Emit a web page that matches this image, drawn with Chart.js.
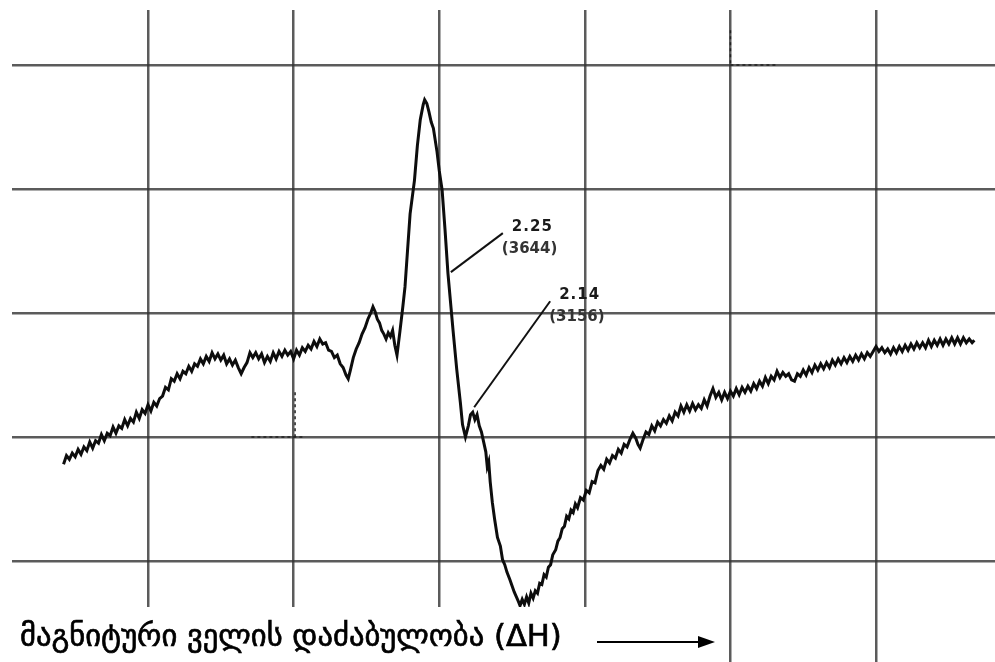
<!DOCTYPE html>
<html>
<head>
<meta charset="utf-8">
<script src="https://cdn.jsdelivr.net/npm/chart.js@4"></script>
<style>
  body { margin: 0; background: #fff; }
  canvas { display: block; }
</style>
</head>
<body>
<canvas id="chart" width="995" height="662"></canvas>
<script>
// field position in grid units (one grid cell = 10), signal in grid units
const field = [
  4.2, 4.4, 4.6, 4.8, 5.0, 5.2, 5.4, 5.6, 5.8, 6.0, 6.2, 6.4, 6.6, 6.8, 7.0, 7.2, 7.4, 7.6, 7.8, 8.0,
  8.2, 8.4, 8.6, 8.8, 9.0, 9.2, 9.4, 9.6, 9.8, 10.0, 10.2, 10.4, 10.6, 10.8, 11.0, 11.2, 11.4, 11.6, 11.8, 12.0,
  12.2, 12.4, 12.6, 12.8, 13.0, 13.2, 13.4, 13.6, 13.8, 14.0, 14.2, 14.4, 14.6, 14.8, 15.0, 15.2, 15.4, 15.6, 15.8, 16.0,
  16.2, 16.4, 16.6, 16.8, 17.0, 17.2, 17.4, 17.6, 17.8, 18.0, 18.2, 18.4, 18.6, 18.8, 19.0, 19.2, 19.4, 19.6, 19.8, 20.0,
  20.2, 20.4, 20.6, 20.8, 21.0, 21.2, 21.4, 21.6, 21.8, 22.0, 22.2, 22.4, 22.6,
  22.8, 23.0, 23.2, 23.4, 23.6, 23.75, 23.9, 24.1, 24.3, 24.5, 24.7, 24.9, 25.1, 25.3, 25.45, 25.6, 25.75, 25.9, 26.05, 26.2,
  26.35, 26.5, 26.65, 26.8, 26.95, 27.1, 27.3, 27.5, 27.65, 28.0, 28.3, 28.5, 28.7, 28.9, 29.0, 29.15, 29.3, 29.45, 29.6, 29.85,
  30.0, 30.2, 30.4, 30.6, 30.95, 31.2, 31.45, 31.6, 31.8, 32.0, 32.15, 32.3, 32.45, 32.6, 32.75, 32.9, 33.05, 33.2, 33.3, 33.4,
  33.5, 33.65, 33.8, 34.0, 34.2, 34.35, 34.5, 34.65, 34.85, 35.0, 35.15, 35.3, 35.45, 35.55, 35.7, 35.85, 36.0, 36.15, 36.3, 36.45,
  36.6, 36.75, 36.9, 37.05, 37.2, 37.35, 37.5, 37.65, 37.8, 38.0, 38.15, 38.3, 38.45, 38.6, 38.75, 38.9, 39.05, 39.2, 39.35, 39.5,
  39.7, 39.9, 40.1, 40.3, 40.5, 40.7, 40.9, 41.1, 41.3, 41.5, 41.7, 41.9, 42.1, 42.3, 42.5, 42.7, 42.9, 43.1, 43.3, 43.5,
  43.65, 43.8, 44.0, 44.2, 44.4, 44.6, 44.8, 45.0, 45.2, 45.4, 45.6, 45.8, 46.0, 46.2, 46.4, 46.6, 46.8, 47.0, 47.2, 47.4,
  47.6, 47.8, 48.0, 48.2, 48.4, 48.6, 48.8, 49.0, 49.2, 49.4, 49.6, 49.8, 50.0, 50.2, 50.4, 50.6, 50.8, 51.0, 51.2, 51.4,
  51.6, 51.8, 52.0, 52.2, 52.4, 52.6, 52.8, 53.0, 53.2, 53.4, 53.6, 53.8, 54.0, 54.2, 54.4, 54.6, 54.8, 55.0, 55.2, 55.4,
  55.6, 55.8, 56.0, 56.2, 56.4, 56.6, 56.8, 57.0, 57.2, 57.4, 57.6, 57.8, 58.0, 58.2, 58.4, 58.6, 58.8, 59.0, 59.2, 59.4,
  59.6, 59.8, 60.0, 60.2, 60.4, 60.6, 60.8, 61.0, 61.2, 61.4, 61.6, 61.8, 62.0, 62.2, 62.4, 62.6, 62.8, 63.0, 63.2, 63.4,
  63.6, 63.8, 64.0, 64.2, 64.4, 64.6, 64.8, 65.0, 65.2, 65.4, 65.6, 65.8, 66.0, 66.2, 66.4, 66.6, 66.75
];
const signal = [
  7.8, 8.5, 8.2, 8.7, 8.4, 9.0, 8.6, 9.2, 8.9, 9.6, 9.1, 9.7, 9.5, 10.2, 9.7, 10.3, 10.1, 10.8, 10.3, 10.9,
  10.7, 11.4, 10.9, 11.5, 11.2, 12.0, 11.5, 12.2, 11.9, 12.6, 12.1, 12.8, 12.5, 13.1, 13.3, 14.0, 13.8, 14.7, 14.5, 15.1,
  14.7, 15.3, 15.1, 15.7, 15.3, 15.9, 15.7, 16.3, 15.9, 16.5, 16.1, 16.8, 16.3, 16.7, 16.2, 16.6, 15.9, 16.3, 15.8, 16.2,
  15.6, 15.1, 15.6, 16.0, 16.8, 16.4, 16.8, 16.3, 16.7, 16.0, 16.5, 16.1, 16.8, 16.3, 16.9, 16.5, 17.0, 16.6, 16.9, 16.3,
  17.0, 16.6, 17.2, 16.9, 17.4, 17.1, 17.7, 17.3, 17.9, 17.5, 17.6, 17.0, 16.9,
  16.4, 16.6, 15.9, 15.6, 15.0, 14.7, 15.4, 16.4, 17.1, 17.6, 18.3, 18.8, 19.5, 20.0, 20.5, 20.1, 19.5, 19.2, 18.6, 18.3,
  17.9, 18.4, 18.1, 18.6, 17.4, 16.6, 18.5, 20.5, 22.1, 28.0, 30.7, 33.5, 35.6, 36.8, 37.2, 36.9, 36.2, 35.4, 34.9, 33.0,
  31.5, 29.9, 26.7, 23.2, 18.6, 15.5, 12.8, 11.0, 10.0, 10.9, 11.8, 12.0, 11.4, 11.8, 10.9, 10.4, 9.6, 8.8, 7.6, 8.0,
  6.4, 4.7, 3.4, 1.9, 1.2, 0.1, -0.3, -0.9, -1.5, -2.0, -2.5, -2.9, -3.3, -3.6, -3.1, -3.5, -2.9, -3.4, -2.6, -3.0,
  -2.4, -2.6, -1.8, -1.9, -1.1, -1.3, -0.5, -0.3, 0.5, 0.9, 1.6, 1.9, 2.6, 2.8, 3.6, 3.4, 4.1, 3.9, 4.6, 4.3,
  5.1, 4.9, 5.7, 5.5, 6.4, 6.3, 7.3, 7.7, 7.4, 8.2, 7.9, 8.5, 8.3, 9.0, 8.7, 9.4, 9.2, 9.8, 10.3, 9.9,
  9.4, 9.1, 9.8, 10.4, 10.2, 10.9, 10.5, 11.2, 10.9, 11.4, 11.1, 11.7, 11.3, 12.0, 11.7, 12.5, 12.0, 12.6, 12.1, 12.7,
  12.2, 12.6, 12.3, 13.0, 12.5, 13.3, 13.9, 13.2, 13.6, 13.0, 13.6, 13.1, 13.7, 13.3, 13.9, 13.4, 14.0, 13.6, 14.1, 13.7,
  14.3, 13.9, 14.5, 14.1, 14.8, 14.3, 14.9, 14.6, 15.3, 14.8, 15.2, 14.9, 15.1, 14.6, 14.5, 15.1, 14.9, 15.4, 15.0, 15.6,
  15.2, 15.8, 15.4, 15.9, 15.5, 16.0, 15.6, 16.2, 15.8, 16.3, 15.9, 16.4, 16.0, 16.5, 16.1, 16.6, 16.2, 16.7, 16.3, 16.8,
  16.5, 16.9, 17.3, 16.9, 17.2, 16.8, 17.1, 16.7, 17.2, 16.8, 17.3, 16.9, 17.4, 17.0, 17.5, 17.1, 17.6, 17.2, 17.6, 17.2,
  17.8, 17.3, 17.8, 17.4, 17.9, 17.4, 17.9, 17.5, 18.0, 17.5, 18.0, 17.5, 18.0, 17.6, 17.9, 17.6, 17.8
];

// g-factor notes and the field value in brackets, anchored on the trace
const gValues = ["2.25", "2.14"];
const fieldNotes = ["(3644)", "(3156)"];
const noteAnchorX = [30.8, 32.4];
const noteAnchorY = [23.3, 12.4];

const axisLabel = "მაგნიტური ველის დაძაბულობა (ΔH)";

const points = field.map((x, i) => ({ x: x, y: signal[i] }));

const overlay = {
  id: "overlay",
  afterDraw(chart) {
    const ctx = chart.ctx;
    const xs = chart.scales.x;
    const ys = chart.scales.y;
    ctx.save();

    // pen marks left on the chart paper
    ctx.strokeStyle = "#222";
    ctx.lineWidth = 1.5;
    ctx.setLineDash([3, 3]);
    ctx.beginPath();
    ctx.moveTo(xs.getPixelForValue(20.1), ys.getPixelForValue(13.6));
    ctx.lineTo(xs.getPixelForValue(20.1), ys.getPixelForValue(9.8));
    ctx.moveTo(xs.getPixelForValue(17.1), ys.getPixelForValue(10));
    ctx.lineTo(xs.getPixelForValue(20.8), ys.getPixelForValue(10));
    ctx.moveTo(xs.getPixelForValue(50), ys.getPixelForValue(42.8));
    ctx.lineTo(xs.getPixelForValue(50), ys.getPixelForValue(40));
    ctx.moveTo(xs.getPixelForValue(50), ys.getPixelForValue(40));
    ctx.lineTo(xs.getPixelForValue(53.1), ys.getPixelForValue(40));
    ctx.stroke();
    ctx.setLineDash([]);

    // leader lines and notes
    const lead = [[52, -39], [76, -106]];
    ctx.lineWidth = 2;
    ctx.strokeStyle = "#111";
    gValues.forEach((g, i) => {
      const px = xs.getPixelForValue(noteAnchorX[i]);
      const py = ys.getPixelForValue(noteAnchorY[i]);
      const ex = px + lead[i][0];
      const ey = py + lead[i][1];
      ctx.beginPath();
      ctx.moveTo(px, py);
      ctx.lineTo(ex, ey);
      ctx.stroke();
      ctx.textBaseline = "middle";
      ctx.fillStyle = "#1a1a1a";
      ctx.letterSpacing = "1px";
      ctx.font = "bold 15px 'DejaVu Sans'";
      ctx.fillText(g, ex + 9, ey - 6);
      ctx.fillStyle = "#333";
      ctx.letterSpacing = "0px";
      ctx.font = "bold 15px 'DejaVu Sans'";
      ctx.fillText(fieldNotes[i], ex - 1, ey + 16);
    });

    // caption box under the chart
    ctx.fillStyle = "#fff";
    ctx.fillRect(0, 607, 592, 55);
    ctx.fillStyle = "#000";
    ctx.strokeStyle = "#000";
    ctx.lineWidth = 0.7;
    ctx.textBaseline = "middle";
    ctx.font = "26px 'DejaVu Sans'";
    const w = ctx.measureText(axisLabel).width;
    const size = 26 * 542 / w;
    ctx.font = size.toFixed(1) + "px 'DejaVu Sans'";
    ctx.fillText(axisLabel, 20, 638);
    ctx.strokeText(axisLabel, 20, 638);

    // arrow
    ctx.lineWidth = 2;
    ctx.beginPath();
    ctx.moveTo(597, 642);
    ctx.lineTo(700, 642);
    ctx.stroke();
    ctx.beginPath();
    ctx.moveTo(715, 642);
    ctx.lineTo(698, 636);
    ctx.lineTo(698, 648);
    ctx.closePath();
    ctx.fill();

    ctx.restore();
  }
};

const gridStyle = {
  color: "rgba(50, 50, 50, 0.8)",
  lineWidth: 2.5,
  drawTicks: false
};

new Chart(document.getElementById("chart").getContext("2d"), {
  type: "scatter",
  data: {
    datasets: [{
      data: points,
      showLine: true,
      borderColor: "#0d0d0d",
      borderWidth: 3,
      pointRadius: 0,
      tension: 0
    }]
  },
  options: {
    responsive: false,
    animation: false,
    layout: {
      padding: { left: 12, top: 10, right: 0, bottom: 0 }
    },
    plugins: {
      legend: { display: false },
      tooltip: { enabled: false }
    },
    scales: {
      x: {
        type: "linear",
        min: 0.66,
        max: 68.17,
        grid: gridStyle,
        border: { display: false },
        ticks: { display: false, stepSize: 10, includeBounds: false }
      },
      y: {
        type: "linear",
        min: -8.15,
        max: 44.44,
        grid: gridStyle,
        border: { display: false },
        ticks: { display: false, stepSize: 10, includeBounds: false }
      }
    }
  },
  plugins: [overlay]
});
</script>
</body>
</html>
